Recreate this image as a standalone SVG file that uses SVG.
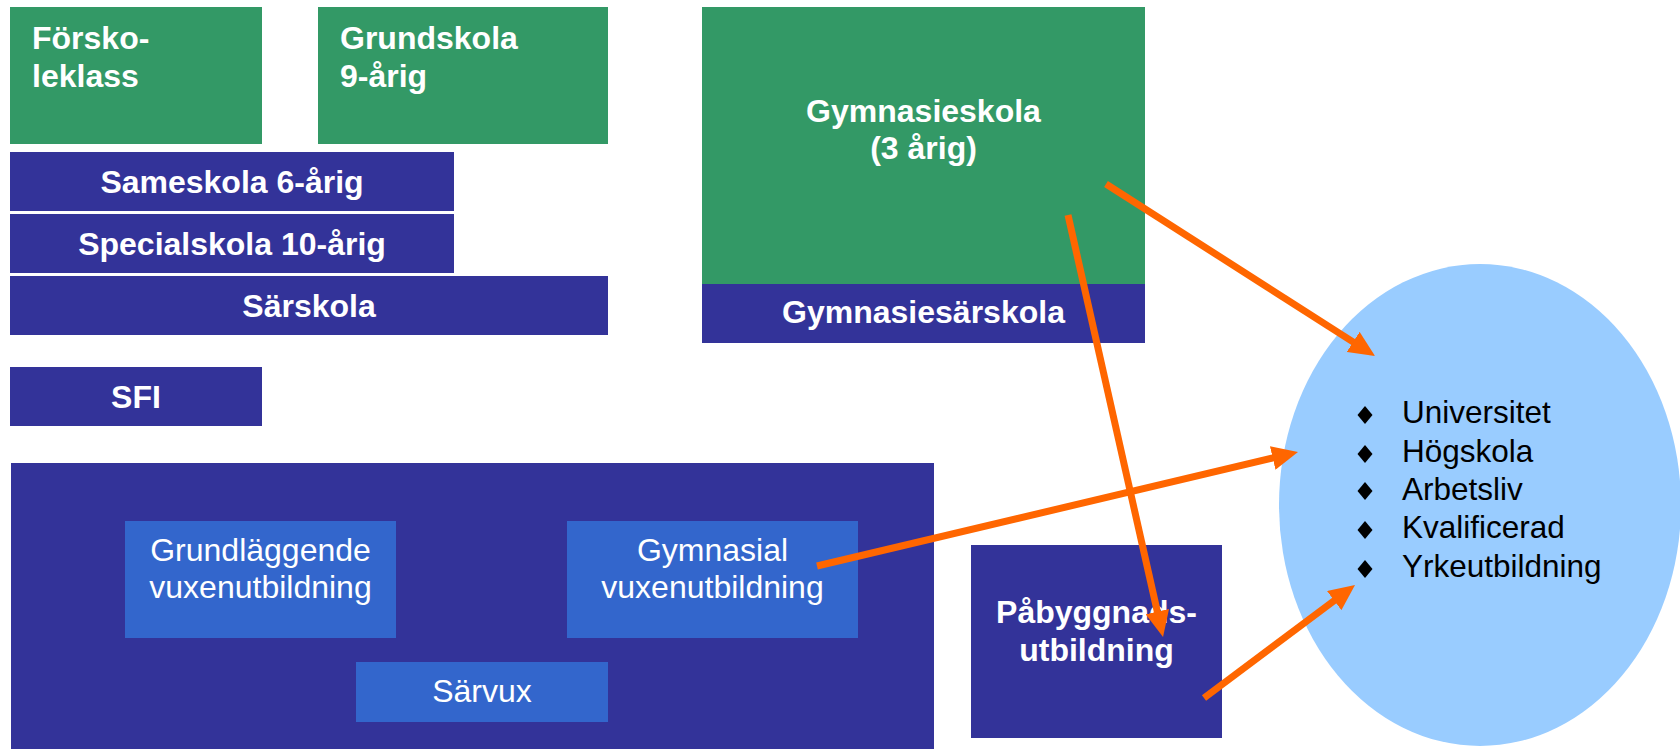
<svg xmlns="http://www.w3.org/2000/svg" width="1680" height="749" viewBox="0 0 1680 749">
<style>
.g{fill:#339966}
.b{fill:#333399}
.l{fill:#3366cc}
.tb{font-family:"Liberation Sans",Arial,sans-serif;font-weight:bold;font-size:32px;fill:#ffffff}
.tr{font-family:"Liberation Sans",Arial,sans-serif;font-size:32px;fill:#ffffff}
.te{font-family:"Liberation Sans",Arial,sans-serif;font-size:31.5px;fill:#000000}
.c{text-anchor:middle}
.arr{stroke:#ff6600;stroke-width:7;fill:none;marker-end:url(#ah)}
</style>
<defs>
<marker id="ah" viewBox="0 0 26 24" refX="4" refY="12" markerWidth="26" markerHeight="24" markerUnits="userSpaceOnUse" orient="auto">
<path d="M0,0 L26,12 L0,24 z" fill="#ff6600"/>
</marker>
</defs>
<rect width="1680" height="749" fill="#ffffff"/>
<g id="forskoleklass"><rect class="g" x="10" y="7" width="252" height="137"/><text class="tb" x="32" y="49">Försko-</text><text class="tb" x="32" y="87">leklass</text></g>
<g id="grundskola"><rect class="g" x="318" y="7" width="290" height="137"/><text class="tb" x="340" y="49">Grundskola</text><text class="tb" x="340" y="87">9-årig</text></g>
<g id="sameskola"><rect class="b" x="10" y="152" width="444" height="59"/><text class="tb c" x="232" y="193">Sameskola 6-årig</text></g>
<g id="specialskola"><rect class="b" x="10" y="214" width="444" height="59"/><text class="tb c" x="232" y="255">Specialskola 10-årig</text></g>
<g id="sarskola"><rect class="b" x="10" y="276" width="598" height="59"/><text class="tb c" x="309" y="317">Särskola</text></g>
<g id="sfi"><rect class="b" x="10" y="367" width="252" height="59"/><text class="tb c" x="136" y="408">SFI</text></g>
<g id="gymnasieskola"><rect class="g" x="702" y="7" width="443" height="277"/><text class="tb c" x="923.5" y="122">Gymnasieskola</text><text class="tb c" x="923.5" y="159">(3 årig)</text></g>
<g id="gymnasiesarskola"><rect class="b" x="702" y="284" width="443" height="59"/><text class="tb c" x="923.5" y="323">Gymnasiesärskola</text></g>
<g id="vuxenutbildning"><rect class="b" x="11" y="463" width="923" height="286"/></g>
<g id="grundlaggande"><rect class="l" x="125" y="521" width="271" height="117"/><text class="tr c" x="260.5" y="561">Grundläggende</text><text class="tr c" x="260.5" y="598">vuxenutbildning</text></g>
<g id="gymnasial"><rect class="l" x="567" y="521" width="291" height="117"/><text class="tr c" x="712.5" y="561">Gymnasial</text><text class="tr c" x="712.5" y="598">vuxenutbildning</text></g>
<g id="sarvux"><rect class="l" x="356" y="662" width="252" height="60"/><text class="tr c" x="482" y="702">Särvux</text></g>
<g id="pabyggnad"><rect class="b" x="971" y="545" width="251" height="193"/><text class="tb c" x="1096.5" y="623">Påbyggnads-</text><text class="tb c" x="1096.5" y="661">utbildning</text></g>
<g id="mal"><ellipse cx="1480" cy="505" rx="201" ry="241" fill="#99ccff"/>
<g fill="#000000">
<polygon points="1365,406 1372.5,415 1365,424 1357.5,415"/>
<polygon points="1365,445 1372.5,454 1365,463 1357.5,454"/>
<polygon points="1365,482 1372.5,491 1365,500 1357.5,491"/>
<polygon points="1365,521 1372.5,530 1365,539 1357.5,530"/>
<polygon points="1365,560 1372.5,569 1365,578 1357.5,569"/>
</g>
<text class="te" x="1402" y="423">Universitet</text>
<text class="te" x="1402" y="462">Högskola</text>
<text class="te" x="1402" y="500">Arbetsliv</text>
<text class="te" x="1402" y="538">Kvalificerad</text>
<text class="te" x="1402" y="577">Yrkeutbildning</text>
</g>
<g id="connectors">
<line class="arr" x1="1106" y1="184" x2="1356.5" y2="344.1"/>
<line class="arr" x1="817" y1="566" x2="1276.6" y2="457.1"/>
<line class="arr" x1="1068" y1="215" x2="1158.2" y2="615.5"/>
<line class="arr" x1="1204" y1="698" x2="1337.4" y2="598.2"/>
</g>
</svg>
